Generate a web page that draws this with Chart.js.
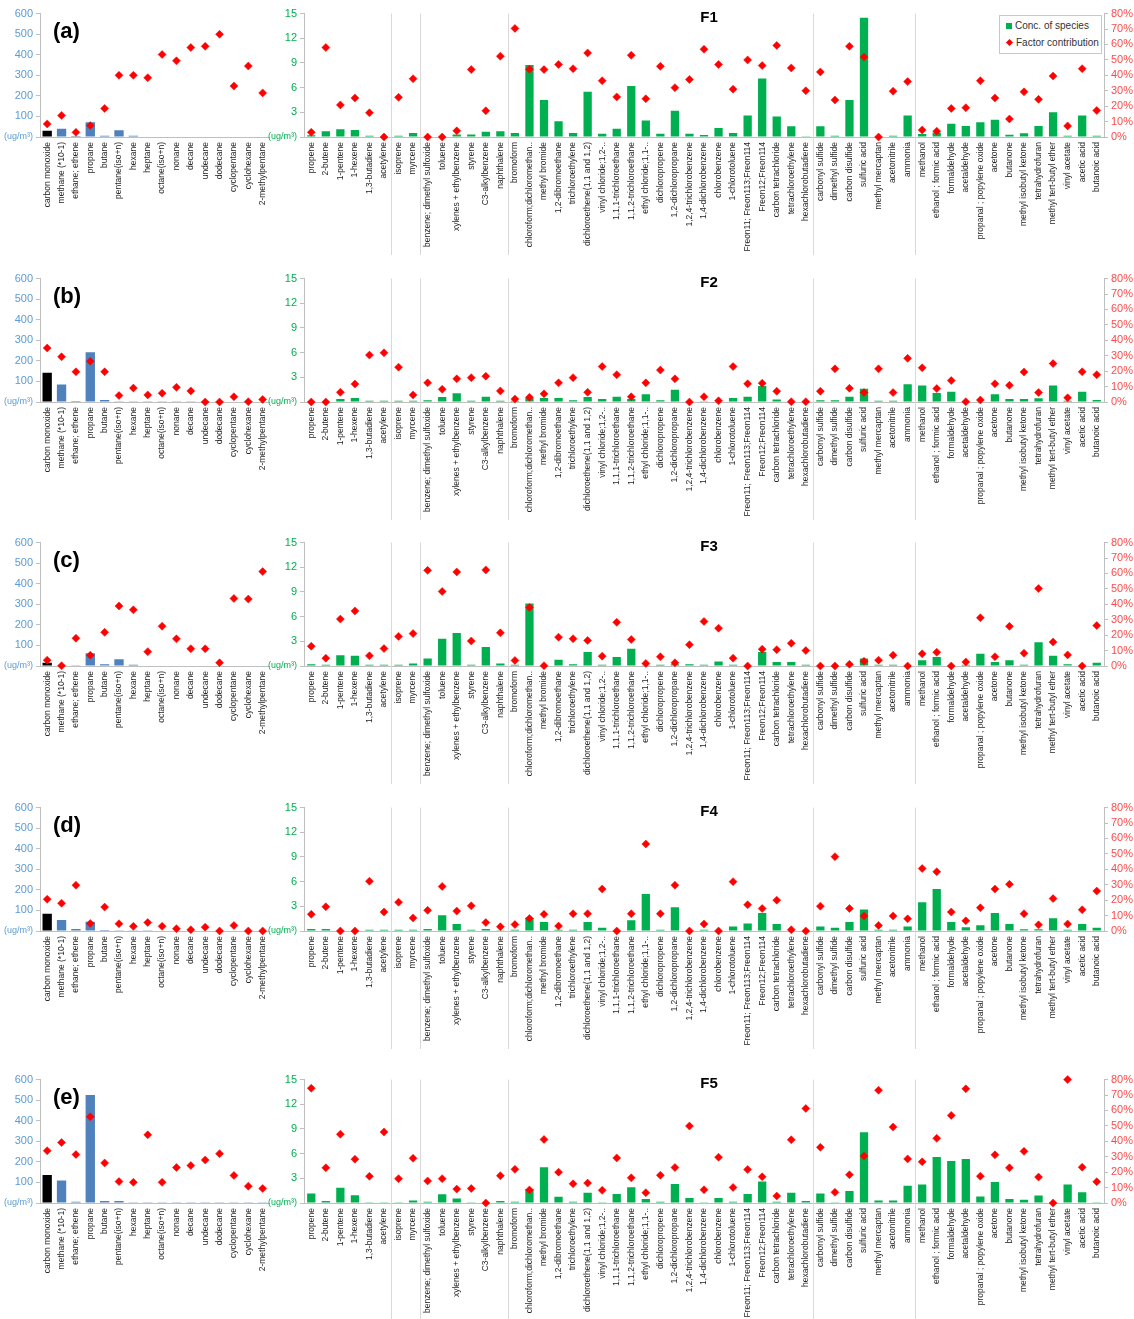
<!DOCTYPE html>
<html><head><meta charset="utf-8">
<script src="https://cdn.jsdelivr.net/npm/chart.js@4.4.1/dist/chart.umd.min.js"></script>
<style>
body{margin:0;background:#fff;width:1134px;height:1319px;position:relative;overflow:hidden;font-family:'Liberation Sans',Arial,sans-serif}
canvas{position:absolute}
.plabel{position:absolute;font:bold 22px 'Liberation Sans',Arial,sans-serif;color:#000;line-height:22px}
.ftitle{position:absolute;font:bold 15px 'Liberation Sans',Arial,sans-serif;color:#000;line-height:15px;transform:translateX(-50%)}
#legend{position:absolute;left:999px;top:15px;width:101px;height:37px;border:1px solid #c8c8c8;background:#fff;font:10px 'Liberation Sans',Arial,sans-serif;color:#333}
#legend .it{position:absolute;left:6px;height:12px;line-height:12px;white-space:nowrap}
#legend .sq{display:inline-block;width:6px;height:6px;background:#00B050;margin-right:3px;vertical-align:0px}
#legend .dm{display:inline-block;width:5px;height:5px;background:#ff0000;transform:rotate(45deg);margin:0 4px 0 1px;vertical-align:1px}
</style></head><body>
<script>
// ---------- categories ----------
const leftCategories = ['carbon monoxide','methane (*10-1)','ethane; ethene','propane','butane','pentane(iso+n)','hexane','heptane','octane(iso+n)','nonane','decane','undecane','dodecane','cyclopentane','cyclohexane','2-methylpentane'];
const rightCategories = ['propene','2-butene','1-pentene','1-hexene','1,3-butadiene','acetylene','isoprene','myrcene','benzene; dimethyl sulfoxide','toluene','xylenes + ethylbenzene','styrene','C3-alkylbenzene','naphthalene','bromoform','chloroform;dichloromethan..','methyl bromide','1,2-dibromoethane','trichloroethylene','dichloroethene(1,1 and 1,2)','vinyl chloride;1,2-..','1,1,1-trichloroethane','1,1,2-trichloroethane','ethyl chloride;1,1-..','dichloropropene','1,2-dichloropropane','1,2,4-trichlorobenzene','1,4-dichlorobenzene','chlorobenzene','1-chlorotoluene','Freon11; Freon113;Freon114','Freon12;Freon114','carbon tetrachloride','tetrachloroethylene','hexachlorobutadiene','carbonyl sulfide','dimethyl sulfide','carbon disulfide','sulfuric acid','methyl mercaptan','acetonitrile','ammonia','methanol','ethanol ; formic acid','formaldehyde','acetaldehyde','propanal ; popylene oxide','acetone','butanone','methyl isobutyl ketone','tetrahydrofuran','methyl tert-butyl ether','vinyl acetate','acetic acid','butanoic acid'];
const rightGroupBreaks = ['acetylene','myrcene','naphthalene','hexachlorobutadiene','ammonia'];

// ---------- tick labels ----------
const leftAxisTicks = [0,100,200,300,400,500,600];
const greenAxisTicks = [0,3,6,9,12,15];
const pctAxisTicks = [0,10,20,30,40,50,60,70,80];
const unitLabel = '(ug/m³)';

// ---------- F1 ----------
const F1_leftConc = [30,40,5,72,6,33,6,3,3,3,3,3,3,3,3,3];
const F1_leftContrib = [8.5,14,3,7.4,18.5,40,40,38.4,53.5,49.4,58,58.8,66.6,33,46,28.6];
const F1_rightConc = [0.2,0.7,0.95,0.85,0.15,0.05,0.15,0.5,0,0, 0.3,0.3,0.65,0.7,0.5,8.75,4.5,1.9,0.5,5.5, 0.4,1.0,6.2,2.0,0.4,3.2,0.4,0.25,1.1,0.5, 2.6,7.1,2.5,1.3,0.1,1.3,0.15,4.5,14.5,0, 0.15,2.6,0.35,0.55,1.6,1.35,1.8,2.1,0.28,0.45, 1.35,3.0,0.15,2.6,0.15];
const F1_rightContrib = [3,58,20.8,25.3,15.7,0,25.7,37.8,0,0, 4,43.7,17,52.4,70.4,43.9,43.7,47,44.3,54.5, 36.5,26,53,24.8,45.8,32,37.3,56.9,47,31, 50,46.3,59.4,44.8,30,42.2,24,58.8,51.8,0, 29.7,35.9,4.5,3.8,18.5,19,36.5,25.3,11.7,29.3, 24.4,39.5,7.2,44.3,17.2];

// ---------- F2 ----------
const F2_leftConc = [142,85,5,242,10,4,4,4,4,4,4,1,1,3,1,2];
const F2_leftContrib = [35,29.3,19.6,26.4,19.6,4.2,9,4.6,5.7,9.5,7.2,0,0,3.4,0.2,1.7];
const F2_rightConc = [0,0,0.35,0.5,0.15,0.15,0.15,0.15,0.2,0.6, 1.05,0.15,0.65,0.15,0.15,0.5,0.5,0.5,0.2,0.6, 0.35,0.65,0.35,0.95,0.2,1.5,0,0.1,0.05,0.5, 0.65,1.95,0.3,0,0,0.2,0.2,0.65,1.6,0.15, 0.15,2.15,2.0,1.1,1.25,0,0.05,0.95,0.35,0.35, 0.45,2.0,0.15,1.25,0.25];
const F2_rightContrib = [0,0,6.3,11.6,30.4,31.9,22.6,4.6,12.4,8.2, 15,15.8,16.7,7.2,1.9,3,5.3,12.4,15.8,6.3, 23,17.7,3.4,12.4,20.7,15,0,3.4,0.8,23, 11.8,12.2,7,0.2,0.2,7,21.5,8.9,6.1,21.5, 6.1,28.3,22.2,8.7,13.9,0.2,1.3,11.8,10.8,19.4, 6.1,24.9,2.7,19.6,17.7];

// ---------- F3 ----------
const F3_leftConc = [16,2,4,62,8,33,6,3,3,3,3,3,2,2,2,2];
const F3_leftContrib = [3.8,0.2,18,7,21.8,38.9,36.4,9.3,25.8,17.6,11.2,11.2,2.1,43.8,43.4,61.2];
const F3_rightConc = [0.2,0.15,1.3,1.25,0.15,0.15,0.15,0.3,0.9,3.3, 4.0,0.15,2.3,0.3,0.15,7.6,0,0.75,0.2,1.7, 0.15,1.1,2.1,0.1,0.15,0.2,0.2,0.15,0.55,0.15, 0,1.7,0.5,0.5,0.15,0,0,0.15,0.9,0.15, 0.15,0,0.7,1.1,0,0.15,1.5,0.5,0.7,0.15, 2.9,1.25,0.2,0,0.4];
const F3_rightContrib = [12.8,5.1,30.4,35.7,6.6,11.3,19.2,21,62,48.3, 61,16.2,62.3,21.5,3.6,38,0.2,18.7,17.7,16.6, 6.4,28.3,17.2,1.7,6,2.1,13.8,28.9,24.5,5.1, 0,10.9,10.6,14.7,10,0,0,1.1,3,3.8, 7,0,7.9,8.9,0,2.6,31.3,6,25.7,8.3, 50.2,15.5,7.2,0,26.2];

// ---------- F4 ----------
const F4_leftConc = [84,53,10,45,5,4,4,4,3,3,3,3,2,3,2,2];
const F4_leftContrib = [20.6,18,29.7,4.9,15.5,4.7,3,5.5,3,1.5,0.8,2.5,0,3.6,0,0];
const F4_rightConc = [0.25,0.25,0,0,0.15,0.15,0.15,0.15,0.25,1.9, 0.85,0.15,0.25,0.1,0.15,1.6,1.1,0.15,0.15,1.1, 0.4,0,1.3,4.5,0.15,2.9,0,0.15,0,0.55, 0.9,2.2,0.85,0.05,0,0.55,0.4,1.1,2.6,0.15, 0.15,0.55,3.5,5.1,1.1,0.45,0.7,2.2,0.85,0.2, 0.2,1.55,0.15,0.85,0.4];
const F4_rightContrib = [10.8,15.7,0,0,32.3,12.3,18.7,8.5,13.4,28.9, 12.9,16.3,5.5,2.8,4.2,8.1,10.8,3.2,11.2,11.2, 27.2,0,11.2,56.4,11.2,29.7,0,4.5,0,32, 17,14.6,20,0.8,0,16.1,48.2,14.6,9.8,3.6, 9.8,7.9,40.5,38.4,12.3,6.6,15.1,27.2,30.3,11.2, 4,21,4.5,13.8,25.9];

// ---------- F5 ----------
const F5_leftConc = [136,110,6,525,10,10,4,4,4,4,4,4,4,4,4,4];
const F5_leftContrib = [33.9,39.2,31.4,55.9,26,13.9,13.4,44.2,13.4,23,24.3,27.9,32,17.9,10.9,9.4];
const F5_rightConc = [1.15,0.25,1.85,0.95,0.1,0.1,0.1,0.3,0.15,1.05, 0.55,0.1,0,0.25,0.15,1.7,4.35,0.75,0.15,1.25, 0.1,1.1,1.9,0.5,0.15,2.3,0.6,0.1,0.6,0.15, 1.1,2.6,0.15,1.25,0.25,1.15,0.1,1.45,8.6,0.3, 0.3,2.1,2.25,5.6,5.1,5.35,0.8,2.55,0.5,0.4, 0.9,0,2.25,1.3,0.1];
const F5_rightContrib = [74.4,22.8,44.6,28.4,17.3,46,15.8,29,14.3,15.8, 9,9.4,0,17.7,21.8,8.5,41.2,20,12.5,12.9, 8.2,29.2,16.3,6.7,18,23,49.9,8.6,29.7,10.1, 21.7,17,4.5,41,61.3,36.1,6.9,18.3,30.5,73.1, 49.2,28.6,26.7,41.9,56.8,74,17.4,31.2,22.8,33.5, 16.8,0,80,23.2,13.8];

const panelLetters = ['(a)','(b)','(c)','(d)','(e)'];
const panelTitles = ['F1','F2','F3','F4','F5'];

// ---------- layout / styling ----------
const plotTops = [12, 277, 541, 806, 1078];
const PAD_TOP = 8, PLOT_H = 125, XAXIS_H = 120;
const FONT = "'Liberation Sans', Arial, sans-serif";
const COL_BLUE_TXT = '#5B9BD5', COL_GREEN_TXT = '#00B050', COL_RED_TXT = '#ff4a4a';
const AXIS_COL = '#bfbfbf';

const panels = [
  {conc:[F1_leftConc,F1_rightConc], contrib:[F1_leftContrib,F1_rightContrib], legend:true},
  {conc:[F2_leftConc,F2_rightConc], contrib:[F2_leftContrib,F2_rightContrib]},
  {conc:[F3_leftConc,F3_rightConc], contrib:[F3_leftContrib,F3_rightContrib]},
  {conc:[F4_leftConc,F4_rightConc], contrib:[F4_leftContrib,F4_rightContrib]},
  {conc:[F5_leftConc,F5_rightConc], contrib:[F5_leftContrib,F5_rightContrib]}
];

const dividerPlugin = {
  id: 'dividers',
  beforeDatasetsDraw(chart, args, opts) {
    const breaks = opts.breaks || [];
    if (!breaks.length) return;
    const xs = chart.scales.x, ca = chart.chartArea, ctx = chart.ctx;
    ctx.save();
    ctx.strokeStyle = '#d9d9d9';
    ctx.lineWidth = 1;
    breaks.forEach(i => {
      const px = Math.round((xs.getPixelForValue(i) + xs.getPixelForValue(i + 1)) / 2) + 0.5;
      ctx.beginPath();
      ctx.moveTo(px, ca.top);
      ctx.lineTo(px, ca.bottom + (opts.extend || 0));
      ctx.stroke();
    });
    ctx.restore();
  }
};

function yTickFont(big) {
  return (c) => ({family: FONT, size: (c.tick && c.tick.value === 0) ? 9 : big});
}
function setTicks(arr) { return (s) => { s.ticks = arr.map(v => ({value: v})); }; }

function makeCanvas(left, top, w, h) {
  const c = document.createElement('canvas');
  c.width = w; c.height = h;
  c.style.left = left + 'px'; c.style.top = top + 'px';
  c.style.width = w + 'px'; c.style.height = h + 'px';
  document.body.appendChild(c);
  return c;
}

function xScale() {
  return {
    type: 'category', offset: true,
    grid: {display: false, drawTicks: false},
    border: {display: true, color: AXIS_COL},
    ticks: {autoSkip: false, maxRotation: 90, minRotation: 90, padding: 5, color: '#262626', font: {family: FONT, size: 8.5}},
    afterFit: (s) => { s.height = XAXIS_H; }
  };
}

function buildPanel(p, k) {
  const top = plotTops[k] - PAD_TOP;
  const H = PAD_TOP + PLOT_H + XAXIS_H;
  const pct = {type: 'line', showLine: false, pointStyle: 'rectRot', pointRadius: 4, pointHoverRadius: 4,
               backgroundColor: '#ff0000', borderColor: '#ff0000', pointBorderWidth: 0.5, yAxisID: 'pct', clip: false, order: 0};

  // left sub-chart
  const cl = makeCanvas(0, top, 278, H);
  new Chart(cl, {
    type: 'bar',
    data: {
      labels: leftCategories,
      datasets: [
        {label: 'Conc. of species', data: p.conc[0], yAxisID: 'y', order: 1,
         backgroundColor: leftCategories.map((c, i) => i === 0 ? '#000000' : '#4F81BD'),
         barPercentage: 0.65, categoryPercentage: 1},
        Object.assign({label: 'Factor contribution', data: p.contrib[0]}, pct)
      ]
    },
    options: {
      responsive: false, animation: false, devicePixelRatio: 1,
      layout: {padding: {top: PAD_TOP, left: 0, right: 0, bottom: 0}},
      plugins: {legend: {display: false}, tooltip: {enabled: false}},
      scales: {
        x: xScale(),
        y: {position: 'left', min: 0, max: 600, afterBuildTicks: setTicks(leftAxisTicks),
            grid: {drawOnChartArea: false, tickLength: 4, color: AXIS_COL},
            border: {display: true, color: AXIS_COL},
            ticks: {autoSkip: false, color: COL_BLUE_TXT, padding: 3, font: yTickFont(11), callback: v => v === 0 ? unitLabel : v},
            afterFit: (s) => { s.width = 40; }},
        pct: {display: false, min: 0, max: 80, position: 'right'}
      }
    }
  });

  // right sub-chart
  const cr = makeCanvas(255, top, 879, H);
  const breakIdx = rightGroupBreaks.map(n => rightCategories.indexOf(n));
  new Chart(cr, {
    type: 'bar',
    data: {
      labels: rightCategories,
      datasets: [
        {label: 'Conc. of species', data: p.conc[1], yAxisID: 'y', order: 1,
         backgroundColor: '#00B050', barPercentage: 0.57, categoryPercentage: 1},
        Object.assign({label: 'Factor contribution', data: p.contrib[1]}, pct)
      ]
    },
    options: {
      responsive: false, animation: false, devicePixelRatio: 1,
      layout: {padding: {top: PAD_TOP, left: 0, right: 0, bottom: 0}},
      plugins: {legend: {display: false}, tooltip: {enabled: false},
                dividers: {breaks: breakIdx, extend: 118}},
      scales: {
        x: xScale(),
        y: {position: 'left', min: 0, max: 15, afterBuildTicks: setTicks(greenAxisTicks),
            grid: {drawOnChartArea: false, tickLength: 4, color: AXIS_COL},
            border: {display: true, color: AXIS_COL},
            ticks: {autoSkip: false, color: COL_GREEN_TXT, padding: 3, font: yTickFont(11), callback: v => v === 0 ? unitLabel : v},
            afterFit: (s) => { s.width = 49; }},
        pct: {position: 'right', min: 0, max: 80, afterBuildTicks: setTicks(pctAxisTicks),
              grid: {drawOnChartArea: false, tickLength: 4, color: AXIS_COL},
              border: {display: true, color: AXIS_COL},
              ticks: {autoSkip: false, color: COL_RED_TXT, padding: 3, font: {family: FONT, size: 11}, callback: v => v + '%'},
              afterFit: (s) => { s.width = 30; }}
      }
    },
    plugins: [dividerPlugin]
  });

  const lab = document.createElement('div');
  lab.className = 'plabel';
  lab.textContent = panelLetters[k];
  lab.style.left = '53px'; lab.style.top = (plotTops[k] + 8) + 'px';
  document.body.appendChild(lab);

  const t = document.createElement('div');
  t.className = 'ftitle';
  t.textContent = panelTitles[k];
  t.style.left = '709px'; t.style.top = (plotTops[k] - 3) + 'px';
  document.body.appendChild(t);

  if (p.legend) {
    const lg = document.createElement('div');
    lg.id = 'legend';
    lg.innerHTML = '<div class="it" style="top:4px"><span class="sq"></span>Conc. of species</div>' +
                   '<div class="it" style="top:21px"><span class="dm"></span>Factor contribution</div>';
    document.body.appendChild(lg);
  }
}

panels.forEach(buildPanel);
</script>
</body></html>
